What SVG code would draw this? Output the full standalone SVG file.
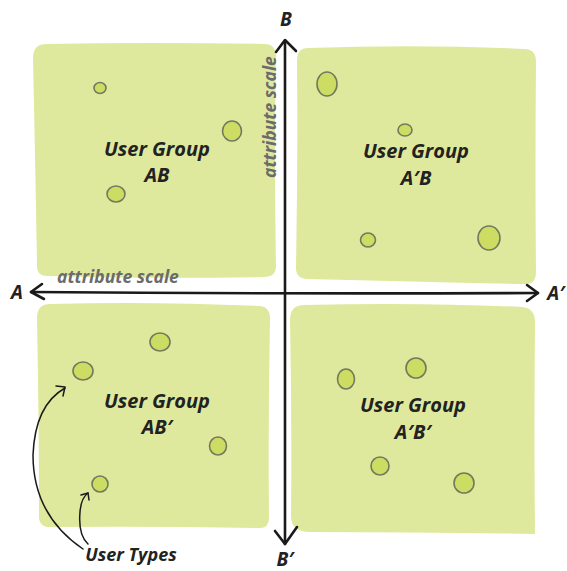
<svg xmlns="http://www.w3.org/2000/svg" width="567" height="571" viewBox="0 0 567 571">
<style>
.sq{fill:#dfe99d;stroke:none}
.dot{fill:#cddd63;stroke:#727a5e;stroke-width:1.6}
.lbl{font-family:"Open Sans","Noto Sans",sans-serif;font-weight:bold;font-style:italic;font-size:20px;fill:#222;text-anchor:middle}
.ax{font-family:"Open Sans","Noto Sans",sans-serif;font-weight:bold;font-style:italic;font-size:19px;fill:#222;text-anchor:middle}
.sc{font-family:"Open Sans","Noto Sans",sans-serif;font-weight:bold;font-style:italic;font-size:17.5px;fill:#6b6b6b}
.line{fill:none;stroke:#1a1a1a;stroke-width:2.6;stroke-linecap:round;stroke-linejoin:round}
.thin{fill:none;stroke:#1a1a1a;stroke-width:1.5;stroke-linecap:round;stroke-linejoin:round}
</style>
<rect width="567" height="571" fill="#fff"/>
<g id="group-ab">
<path class="sq" d="M46,44 Q150,42 266,44 Q277,45 276,58 Q274,160 276,266 Q276,277 264,277 Q150,279 46,276 Q36,276 37,264 Q35,150 33,58 Q33,44 46,44 Z"/>
<ellipse class="dot" cx="100" cy="88" rx="6" ry="5.5"/>
<ellipse class="dot" cx="232" cy="131" rx="9.5" ry="10"/>
<ellipse class="dot" cx="116" cy="194" rx="9" ry="8"/>
<text class="lbl" x="157" y="156">User Group</text>
<text class="lbl" x="157" y="182">AB</text>
</g>
<g id="group-a2b">
<path class="sq" d="M308,48 Q420,44 526,49 Q536,50 536,62 Q535,170 536,272 Q536,285 524,284 Q420,282 308,279 Q295,279 296,266 Q298,160 297,60 Q297,48 308,48 Z"/>
<ellipse class="dot" cx="327" cy="84" rx="10" ry="12"/>
<ellipse class="dot" cx="405" cy="130" rx="7" ry="6"/>
<ellipse class="dot" cx="368" cy="240" rx="7.5" ry="7"/>
<ellipse class="dot" cx="489" cy="238" rx="11" ry="12"/>
<text class="lbl" x="416" y="158">User Group</text>
<text class="lbl" x="416" y="185">A′B</text>
</g>
<g id="group-ab2">
<path class="sq" d="M50,304 Q150,301 260,306 Q271,307 270,320 Q268,420 269,518 Q269,529 258,528 Q150,526 50,527 Q38,527 39,514 Q39,420 37,318 Q37,304 50,304 Z"/>
<ellipse class="dot" cx="160" cy="342" rx="10" ry="9"/>
<ellipse class="dot" cx="83" cy="371" rx="10" ry="9"/>
<ellipse class="dot" cx="218" cy="446" rx="8.5" ry="9"/>
<ellipse class="dot" cx="100" cy="484" rx="8" ry="8"/>
<text class="lbl" x="157" y="408">User Group</text>
<text class="lbl" x="157" y="434">AB′</text>
</g>
<g id="group-a2b2">
<path class="sq" d="M304,305 Q420,302 522,307 Q535,308 535,322 Q534,430 535,534 Q420,532 310,532 Q291,532 291,516 Q292,420 290,320 Q290,305 304,305 Z"/>
<ellipse class="dot" cx="416" cy="368" rx="10" ry="10"/>
<ellipse class="dot" cx="346" cy="379" rx="8.5" ry="10"/>
<ellipse class="dot" cx="380" cy="466" rx="9" ry="9"/>
<ellipse class="dot" cx="464" cy="483" rx="10" ry="10"/>
<text class="lbl" x="413" y="412">User Group</text>
<text class="lbl" x="413" y="439">A′B′</text>
</g>
<g id="connectors">
<path class="line" d="M285,41 L285,544"/>
<path class="line" d="M276,52 L285,40 L296,51"/>
<path class="line" d="M275,531 L285,544 L297,527"/>
<path class="line" d="M31,292 Q280,294 538,293"/>
<path class="line" d="M42,284 L31,292 L44,299"/>
<path class="line" d="M527,285 L538,293 L527,301"/>
<path class="thin" d="M83,549 Q33,515 33,455 Q35,405 65,388"/>
<path class="thin" d="M56,386 L65,387 L63,396"/>
<path class="thin" d="M88,544 Q78,535 80,512 Q81,498 88,493"/>
<path class="thin" d="M81,495 L88,493 L89,500"/>
</g>
<g id="labels">
<text class="ax" x="286" y="26">B</text>
<text class="ax" x="17" y="299">A</text>
<text class="ax" x="556" y="300">A′</text>
<text class="ax" x="285" y="566">B′</text>
<text class="sc" x="57" y="283">attribute scale</text>
<text class="sc" transform="translate(276,178) rotate(-90)">attribute scale</text>
<text class="ax" x="131" y="561" style="font-size:18px">User Types</text>
</g>
</svg>
